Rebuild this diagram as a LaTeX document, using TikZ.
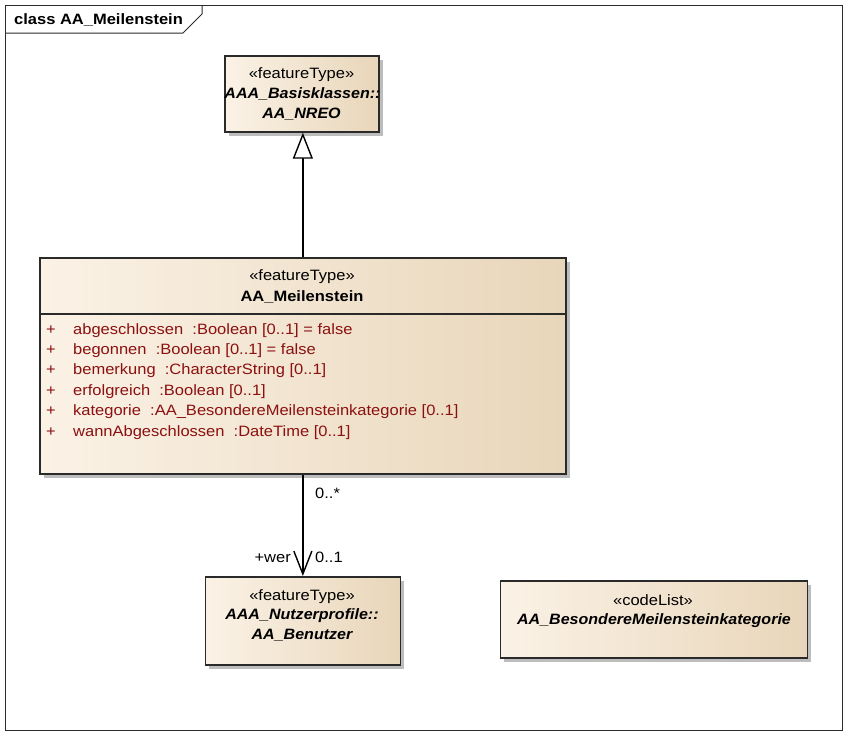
\documentclass[tikz,border=0pt]{standalone}
\usepackage{fontspec}
\setmainfont{Liberation Sans}[FakeStretch=1.1, BoldItalicFeatures={FakeStretch=1.07}]
\usetikzlibrary{arrows.meta,shadows,calc}

\definecolor{boxleft}{HTML}{FBF2E6}
\definecolor{boxright}{HTML}{E8D6BA}
\definecolor{attrred}{HTML}{8B1010}
\definecolor{edgegrey}{HTML}{2A2A2A}
\definecolor{shadowgrey}{HTML}{BDBDBD}

\tikzset{
  frameline/.style={draw=edgegrey, line width=1pt},
  classbox/.style={draw=edgegrey, line width=1.7pt, left color=boxleft, right color=boxright,
    anchor=north west, inner sep=0pt,
    general shadow={fill=shadowgrey, shadow xshift=4pt, shadow yshift=-4pt}},
  connector/.style={draw=black, line width=1.4pt},
  txt/.style={font=\fontsize{15}{17}\selectfont, inner sep=0pt, anchor=base},
  bitxt/.style={txt, font=\fontsize{15}{17}\selectfont\bfseries\itshape},
  titletxt/.style={font=\fontsize{15}{17}\selectfont\bfseries, inner sep=0pt, anchor=base west},
  attrtxt/.style={txt, anchor=base west, text=attrred},
  lbl/.style={txt, anchor=base west}
}

\begin{document}
\begin{tikzpicture}[x=1pt,y=-1pt]
\useasboundingbox (0,0) rectangle (848,736);

% diagram frame with its name tab
\draw[frameline] (5,5) rectangle (842,730);
\draw[frameline] (5,33) -- (183,33) -- (202,14) -- (202,5);
\node[titletxt] (title) at (14,24) {class AA\_Meilenstein};

% AA_NREO
\node[classbox, minimum width=154pt, minimum height=76pt] (nreo) at (224,55) {};
\node[txt] (nreoSt) at (301.5,78) {«featureType»};
\node[bitxt] (nreoPk) at (302.5,98) {AAA\_Basisklassen::};
\node[bitxt] (nreoNm) at (301.5,118) {AA\_NREO};

% AA_Meilenstein
\node[classbox, minimum width=526pt, minimum height=216pt] (main) at (39,257) {};
\node[txt] (mainSt) at (302,280) {«featureType»};
\node[txt, font=\fontsize{15}{17}\selectfont\bfseries] (mainNm) at (302,301) {AA\_Meilenstein};
\draw[draw=edgegrey, line width=1.7pt] ($(main.north west)+(0,57)$) -- ($(main.north east)+(0,57)$);
\foreach \i/\a in {0/{abgeschlossen~ :Boolean [0..1] = false},
                   1/{begonnen~ :Boolean [0..1] = false},
                   2/{bemerkung~ :CharacterString [0..1]},
                   3/{erfolgreich~ :Boolean [0..1]},
                   4/{kategorie~ :AA\_BesondereMeilensteinkategorie [0..1]},
                   5/{wannAbgeschlossen~ :DateTime [0..1]}}{
  \node[attrtxt] (vis\i) at (46,334+20.4*\i) {+};
  \node[attrtxt] (attr\i) at (73,334+20.4*\i) {\a};
}

% AA_Benutzer
\node[classbox, minimum width=195pt, minimum height=88pt] (benutzer) at (204.5,576) {};
\node[txt] (benSt) at (302,600) {«featureType»};
\node[bitxt] (benPk) at (302,619) {AAA\_Nutzerprofile::};
\node[bitxt] (benNm) at (302,639) {AA\_Benutzer};

% AA_BesondereMeilensteinkategorie
\node[classbox, minimum width=307pt, minimum height=77pt] (kat) at (499.5,580) {};
\node[txt] (katSt) at (653,605) {«codeList»};
\node[bitxt] (katNm) at (654,624) {AA\_BesondereMeilensteinkategorie};

% generalization
\draw[connector, -{Triangle[open, length=26pt, width=20pt, fill=white]}]
  (main.north) -- (main.north |- nreo.south);

% association
\draw[connector, -{Straight Barb[length=23pt, width=18pt]}]
  (main.south) -- (main.south |- benutzer.north);
\node[lbl] (multSrc) at (315,498) {0..*};
\node[lbl, anchor=base east] (roleTgt) at (291,562) {+wer};
\node[lbl] (multTgt) at (315,562) {0..1};
\end{tikzpicture}
\end{document}
